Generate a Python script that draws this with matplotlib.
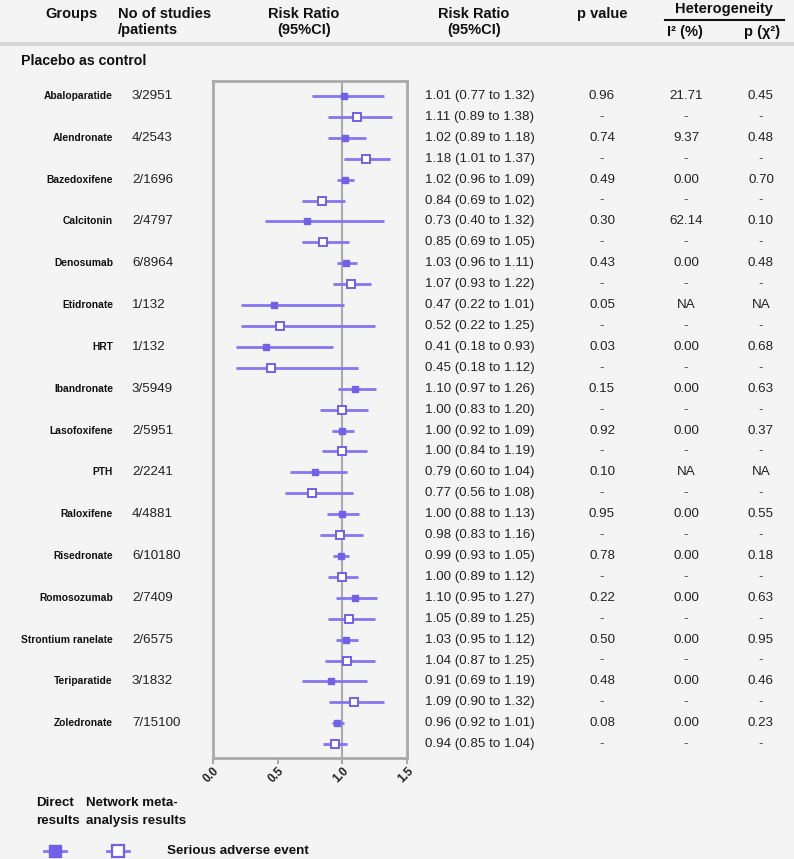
import numpy as np
import matplotlib.pyplot as plt

plt.rcParams['font.family'] = ['Liberation Sans', 'DejaVu Sans']

drugs = ["Abaloparatide", "Alendronate", "Bazedoxifene", "Calcitonin", "Denosumab",
         "Etidronate", "HRT", "Ibandronate", "Lasofoxifene", "PTH", "Raloxifene",
         "Risedronate", "Romosozumab", "Strontium ranelate", "Teriparatide", "Zoledronate"]
studies = ["3/2951", "4/2543", "2/1696", "2/4797", "6/8964", "1/132", "1/132", "3/5949",
           "2/5951", "2/2241", "4/4881", "6/10180", "2/7409", "2/6575", "3/1832", "7/15100"]

# direct results
rr_dir = [1.01, 1.02, 1.02, 0.73, 1.03, 0.47, 0.41, 1.10, 1.00, 0.79, 1.00, 0.99, 1.10, 1.03, 0.91, 0.96]
lo_dir = [0.77, 0.89, 0.96, 0.40, 0.96, 0.22, 0.18, 0.97, 0.92, 0.60, 0.88, 0.93, 0.95, 0.95, 0.69, 0.92]
hi_dir = [1.32, 1.18, 1.09, 1.32, 1.11, 1.01, 0.93, 1.26, 1.09, 1.04, 1.13, 1.05, 1.27, 1.12, 1.19, 1.01]

# network meta-analysis results
rr_nma = [1.11, 1.18, 0.84, 0.85, 1.07, 0.52, 0.45, 1.00, 1.00, 0.77, 0.98, 1.00, 1.05, 1.04, 1.09, 0.94]
lo_nma = [0.89, 1.01, 0.69, 0.69, 0.93, 0.22, 0.18, 0.83, 0.84, 0.56, 0.83, 0.89, 0.89, 0.87, 0.90, 0.85]
hi_nma = [1.38, 1.37, 1.02, 1.05, 1.22, 1.25, 1.12, 1.20, 1.19, 1.08, 1.16, 1.12, 1.25, 1.25, 1.32, 1.04]

p_val = ["0.96", "0.74", "0.49", "0.30", "0.43", "0.05", "0.03", "0.15", "0.92", "0.10",
         "0.95", "0.78", "0.22", "0.50", "0.48", "0.08"]
i2 = ["21.71", "9.37", "0.00", "62.14", "0.00", "NA", "0.00", "0.00", "0.00", "NA",
      "0.00", "0.00", "0.00", "0.00", "0.00", "0.00"]
p_chi = ["0.45", "0.48", "0.70", "0.10", "0.48", "NA", "0.68", "0.63", "0.37", "NA",
         "0.55", "0.18", "0.63", "0.95", "0.46", "0.23"]

bg = "#f4f4f4"
purple = "#7360e8"
line_c = "#8676f0"
grey = "#aaaaaa"

W, H = 794, 859
fig = plt.figure(figsize=(W / 100, H / 100), dpi=100, facecolor=bg)

# full-figure overlay in pixel coordinates for the table text
tx = fig.add_axes([0, 0, 1, 1])
tx.set_xlim(0, W)
tx.set_ylim(H, 0)
tx.axis("off")

row0, step = 96, 20.91  # pixel y of first row and row spacing
def ypix(i):
    return row0 + step * i

# header
hb = dict(fontsize=10.5, fontweight="bold", color="#111111")
tx.text(71, 14, "Groups", ha="center", va="center", **hb)
tx.text(118, 14, "No of studies", ha="left", va="center", **hb)
tx.text(118, 30, "/patients", ha="left", va="center", **hb)
tx.text(304, 14, "Risk Ratio", ha="center", va="center", **hb)
tx.text(304, 30, "(95%CI)", ha="center", va="center", **hb)
tx.text(474, 14, "Risk Ratio", ha="center", va="center", **hb)
tx.text(474, 30, "(95%CI)", ha="center", va="center", **hb)
tx.text(602, 14, "p value", ha="center", va="center", **hb)
tx.text(724, 9, "Heterogeneity", ha="center", va="center", **hb)
tx.plot([665, 784], [20, 20], color="#111111", lw=1.5)
tx.text(685, 32, "I² (%)", ha="center", va="center", **hb)
tx.text(762, 32, "p (χ²)", ha="center", va="center", **hb)
tx.plot([0, W], [44, 44], color="#d6d6d6", lw=3, solid_capstyle="butt")
tx.text(21, 61, "Placebo as control", ha="left", va="center", fontsize=10.2,
        fontweight="bold", color="#111111")

# rows
for k, d in enumerate(drugs):
    yd, yn = ypix(2 * k), ypix(2 * k + 1)
    tx.text(113, yd, d, ha="right", va="center", fontsize=7.4, fontweight="bold", color="#111111")
    tx.text(132, yd, studies[k], ha="left", va="center", fontsize=9.6, color="#222222")
    tx.text(425, yd, f"{rr_dir[k]:.2f} ({lo_dir[k]:.2f} to {hi_dir[k]:.2f})",
            ha="left", va="center", fontsize=9.6, color="#222222")
    tx.text(425, yn, f"{rr_nma[k]:.2f} ({lo_nma[k]:.2f} to {hi_nma[k]:.2f})",
            ha="left", va="center", fontsize=9.6, color="#222222")
    tx.text(602, yd, p_val[k], ha="center", va="center", fontsize=9.6, color="#222222")
    tx.text(686, yd, i2[k], ha="center", va="center", fontsize=9.6, color="#222222")
    tx.text(761, yd, p_chi[k], ha="center", va="center", fontsize=9.6, color="#222222")
    for xc in (602, 686, 761):
        tx.text(xc, yn, "-", ha="center", va="center", fontsize=9.6, color="#444444")

# forest plot axes
left, right, top, bottom = 212.7, 407.1, 80.7, 758
ax = fig.add_axes([left / W, (H - bottom) / H, (right - left) / W, (bottom - top) / H])
ax.set_facecolor(bg)
ax.set_xlim(0, 1.5)
ax.set_ylim((bottom - row0) / step, (top - row0) / step)
ax.axvline(1.0, color=grey, lw=1.5, zorder=1)

yd = np.arange(len(drugs)) * 2
yn = yd + 1
ax.hlines(yd, lo_dir, hi_dir, color=line_c, lw=2, zorder=2)
ax.hlines(yn, lo_nma, hi_nma, color=line_c, lw=2, zorder=2)
ax.plot(rr_dir, yd, "s", ms=5, color=purple, mec=purple, zorder=3)
ax.plot(rr_nma, yn, "s", ms=5.2, mfc="white", mec=purple, mew=1.4, zorder=3)

for s in ax.spines.values():
    s.set_color(grey)
    s.set_linewidth(2)
ax.set_yticks([])
ax.set_xticks([0.0, 0.5, 1.0, 1.5])
ax.set_xticklabels(["0.0", "0.5", "1.0", "1.5"], rotation=45, ha="right", va="top",
                   rotation_mode="anchor", fontsize=8.5, fontweight="bold", color="#222222")
ax.tick_params(axis="x", length=4, width=1.5, color=grey, pad=1)

# legend
lb = dict(fontsize=9.6, fontweight="bold", color="#111111")
tx.text(36, 803, "Direct", ha="left", va="center", **lb)
tx.text(36, 821, "results", ha="left", va="center", **lb)
tx.text(86, 803, "Network meta-", ha="left", va="center", **lb)
tx.text(86, 821, "analysis results", ha="left", va="center", **lb)
tx.plot([44, 66], [851, 851], color=line_c, lw=2)
tx.plot([55], [851], "s", ms=9, color=purple)
tx.plot([107, 129], [851, 851], color=line_c, lw=2)
tx.plot([118], [851], "s", ms=9, mfc="white", mec=purple, mew=1.6)
tx.text(167, 851, "Serious adverse event", ha="left", va="center", **lb)

fig.savefig("out.png", dpi=100, facecolor=bg)
